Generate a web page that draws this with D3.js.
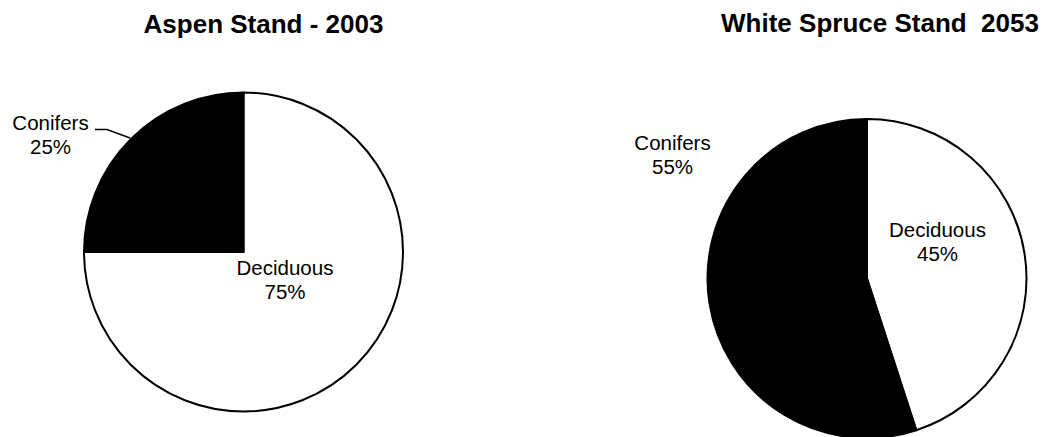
<!DOCTYPE html>
<html>
<head>
<meta charset="utf-8">
<script src="https://cdn.jsdelivr.net/npm/d3@7"></script>
<style>
  html, body { margin: 0; padding: 0; background: #fff; }
  svg { display: block; }
  text { font-family: "Liberation Sans", Arial, sans-serif; fill: #000; white-space: pre; }
</style>
</head>
<body>
<svg id="chart" width="1050" height="437"></svg>
<script>
// Stand composition data
const categories = ["Deciduous", "Conifers"];
const aspenValues = [75, 25];
const spruceValues = [45, 55];
const titles = ["Aspen Stand - 2003", "White Spruce Stand  2053"];

const fills = d3.scaleOrdinal().domain(categories).range(["#ffffff", "#000000"]);

const svg = d3.select("#chart");

// Layout for each pie: centre, radius, title and label anchors
const panels = [
  {
    values: aspenValues, title: titles[0],
    cx: 243.5, cy: 252, r: 159.5,
    titleX: 263.5, titleY: 33,
    labels: { Deciduous: [285, 275], Conifers: [50.5, 130] },
    leader: [[95, 129.5], [107, 129.5], [130, 138]]
  },
  {
    values: spruceValues, title: titles[1],
    cx: 867, cy: 278.5, r: 159.5,
    titleX: 880, titleY: 32,
    labels: { Deciduous: [937.5, 237], Conifers: [672.5, 150] },
    leader: null
  }
];

const pie = d3.pie().sort(null).value(d => d.value);

panels.forEach(p => {
  const data = categories.map((c, i) => ({ name: c, value: p.values[i] }));
  const arc = d3.arc().innerRadius(0).outerRadius(p.r);

  const g = svg.append("g").attr("transform", `translate(${p.cx},${p.cy})`);
  g.selectAll("path")
    .data(pie(data))
    .join("path")
    .attr("d", arc)
    .attr("fill", d => fills(d.data.name))
    .attr("stroke", "#000")
    .attr("stroke-width", 2)
    .attr("stroke-linejoin", "round");

  svg.append("text")
    .attr("x", p.titleX)
    .attr("y", p.titleY)
    .attr("text-anchor", "middle")
    .attr("font-size", "26px")
    .attr("font-weight", "bold")
    .text(p.title);

  data.forEach(d => {
    const [lx, ly] = p.labels[d.name];
    const t = svg.append("text")
      .attr("text-anchor", "middle")
      .attr("font-size", "20.5px");
    t.append("tspan").attr("x", lx).attr("y", ly).text(d.name);
    t.append("tspan").attr("x", lx).attr("y", ly + 24).text(d.value + "%");
  });

  if (p.leader) {
    svg.append("path")
      .attr("d", d3.line()(p.leader))
      .attr("fill", "none")
      .attr("stroke", "#000")
      .attr("stroke-width", 1.5);
  }
});
</script>
</body>
</html>
